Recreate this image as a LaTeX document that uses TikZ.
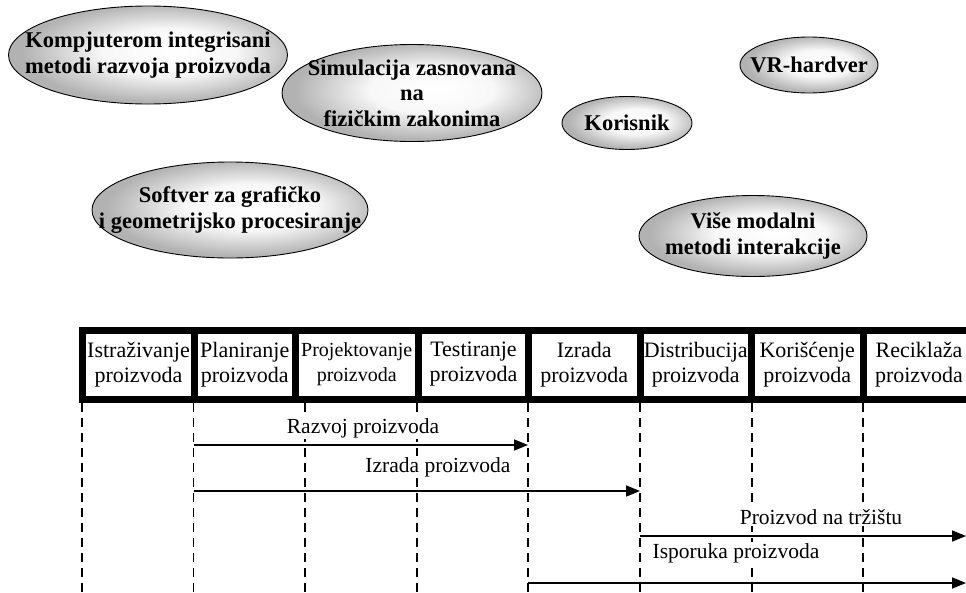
\documentclass[tikz,border=0pt]{standalone}
\usepackage{fontspec}
\setmainfont{Liberation Serif}
\usetikzlibrary{arrows.meta, positioning, shapes.geometric}

\pgfdeclareradialshading{bubbleshade}{\pgfpoint{5bp}{2bp}}{%
  color(0bp)=(white); color(12bp)=(white!97!black); color(25bp)=(black!30); color(50bp)=(black!34)}

\tikzset{
  bubble/.style={ellipse, draw=black, line width=0.9pt, inner sep=0pt,
    shade, shading=bubbleshade},
  bubbletext/.style={align=center, inner sep=0pt,
    font=\fontsize{22.5}{25.5}\selectfont\bfseries},
  phase/.style={rectangle, draw, line width=7pt, minimum height=69pt,
    inner sep=0pt, outer sep=0pt, align=center,
    font=\fontsize{22}{25}\selectfont},
  guide/.style={line width=1.5pt, dash pattern=on 9pt off 6pt},
  flow/.style={line width=1.7pt, -{Triangle[length=14pt, width=11pt]}},
  flowtext/.style={fill=white, inner sep=1pt, font=\fontsize{21.5}{25}\selectfont}
}

\begin{document}
\begin{tikzpicture}[x=1pt, y=-1pt, node distance=0pt]
  \useasboundingbox (0,0) rectangle (966,592);

  % ellipses
  \node[bubble, minimum width=279pt, minimum height=98pt,
    label={[bubbletext]center:{Kompjuterom integrisani\\metodi razvoja proizvoda}}] (kompjuter) at (148,55) {};
  \node[bubble, minimum width=260pt, minimum height=97pt,
    label={[bubbletext]center:{Simulacija zasnovana\\na\\fizičkim zakonima}}] (simulacija) at (412,93) {};
  \node[bubble, minimum width=276pt, minimum height=96pt,
    label={[bubbletext]center:{Softver za grafičko\\i geometrijsko procesiranje}}] (softver) at (230,210) {};
  \node[bubble, minimum width=130pt, minimum height=53pt,
    label={[bubbletext]center:Korisnik}] (korisnik) at (627,123) {};
  \node[bubble, minimum width=138pt, minimum height=56pt,
    label={[bubbletext]center:VR-hardver}] (hardver) at (809,65) {};
  \node[bubble, minimum width=228pt, minimum height=81pt,
    label={[bubbletext]center:{Više modalni\\metodi interakcije}}] (modalni) at (753,236) {};

  % phases
  \node[phase, minimum width=112pt] (istr) at (138.5,364.5) {Istraživanje\\proizvoda};
  \node[phase, minimum width=100.5pt, right=of istr] (plan) {Planiranje\\proizvoda};
  \node[phase, minimum width=123.5pt, right=of plan, font=\fontsize{20}{25}\selectfont] (proj) {Projektovanje\\proizvoda};
  \node[phase, minimum width=110pt, right=of proj] (test) {Testiranje\\proizvoda};
  \node[phase, minimum width=111.5pt, right=of test] (izr) {Izrada\\proizvoda};
  \node[phase, minimum width=111.5pt, right=of izr] (dist) {Distribucija\\proizvoda};
  \node[phase, minimum width=111.5pt, right=of dist] (kor) {Korišćenje\\proizvoda};
  \node[phase, minimum width=112pt, right=of kor] (rec) {Reciklaža\\proizvoda};

  % dashed guides
  \foreach \x [count=\i] in {82,193.5,305,417,528,640,752,863}
    \coordinate (d\i) at (\x,403);
  \foreach \i in {1,...,8}
    \draw[guide] (d\i) -- (d\i |- 0,592);

  \coordinate (rim) at (966,0);
  \coordinate (r1) at (0,445);
  \coordinate (r2) at (0,491);
  \coordinate (r3) at (0,536);
  \coordinate (r4) at (0,583);

  % arrows
  \draw[flow] (d2 |- r1) -- (d5 |- r1);
  \draw[flow] (d2 |- r2) -- (d6 |- r2);
  \draw[flow] (d6 |- r3) -- (rim |- r3);
  \draw[flow] (d5 |- r4) -- (rim |- r4);

  \node[flowtext] (razvoj) at (363,428) {Razvoj proizvoda};
  \node[flowtext] (izrada) at (438,467) {Izrada proizvoda};
  \node[flowtext] (trziste) at (821,517) {Proizvod na tržištu};
  \node[flowtext] (isporuka) at (736,553) {Isporuka proizvoda};
\end{tikzpicture}
\end{document}
